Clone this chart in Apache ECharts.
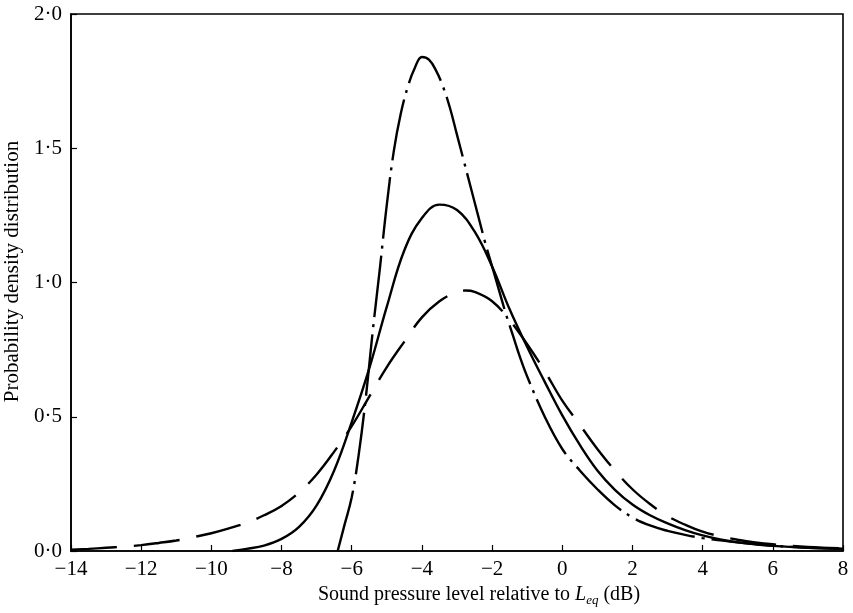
<!DOCTYPE html>
<html>
<head>
<meta charset="utf-8">
<script src="https://cdn.jsdelivr.net/npm/echarts@6/dist/echarts.min.js"></script>
<style>
html,body{margin:0;padding:0;background:#fff;}
#chart{width:853px;height:613px;}
</style>
</head>
<body>
<div id="chart"></div>
<script>
// tick values
var xTicks = [-14, -12, -10, -8, -6, -4, -2, 0, 2, 4, 6, 8];
var yTicks = [0, 0.5, 1.0, 1.5, 2.0];

// Solid curve
var solidX = [-9.4, -9.0, -8.5, -8.0, -7.5, -7.0, -6.5, -6.0, -5.5, -5.0, -4.5, -4.0, -3.5, -3.0, -2.5, -2.0, -1.5, -1.0, -0.5, 0, 0.5, 1.0, 1.5, 2.0, 2.5, 3.0, 3.5, 4.0, 4.5, 5.0, 5.5, 6.0, 7.0, 8.0];
var solidY = [0, 0.008, 0.02, 0.045, 0.09, 0.17, 0.3, 0.48, 0.68, 0.91, 1.12, 1.24, 1.29, 1.27, 1.19, 1.06, 0.9, 0.76, 0.63, 0.505, 0.395, 0.3, 0.228, 0.173, 0.133, 0.103, 0.078, 0.058, 0.043, 0.032, 0.025, 0.019, 0.012, 0.008];

// Dashed curve
var dashedX = [-14, -13.5, -13, -12.5, -12, -11.5, -11, -10.5, -10, -9.5, -9, -8.5, -8, -7.5, -7, -6.5, -6.0, -5.5, -5.0, -4.5, -4.0, -3.5, -3.0, -2.75, -2.5, -2.0, -1.5, -1.0, -0.5, 0, 0.5, 1.0, 1.5, 2.0, 2.5, 3.0, 3.5, 4.0, 4.5, 5.0, 5.5, 6.0, 7.0, 8.0];
var dashedY = [0.005, 0.008, 0.012, 0.016, 0.022, 0.03, 0.039, 0.052, 0.066, 0.084, 0.105, 0.133, 0.168, 0.218, 0.285, 0.37, 0.465, 0.575, 0.685, 0.78, 0.87, 0.93, 0.965, 0.97, 0.965, 0.93, 0.86, 0.77, 0.67, 0.56, 0.47, 0.38, 0.3, 0.23, 0.175, 0.13, 0.098, 0.072, 0.055, 0.042, 0.032, 0.025, 0.015, 0.01];

// Dash-dot curve
var dashDotX = [-6.4, -6.2, -6.0, -5.8, -5.6, -5.4, -5.2, -5.0, -4.8, -4.6, -4.4, -4.2, -4.0, -3.8, -3.6, -3.4, -3.2, -3.0, -2.8, -2.6, -2.4, -2.2, -2.0, -1.8, -1.6, -1.4, -1.2, -1.0, -0.5, 0, 0.5, 1.0, 1.5, 2.0, 2.5, 3.0, 3.5, 4.0, 4.5, 5.0, 6.0, 7.0, 8.0];
var dashDotY = [0, 0.1, 0.2, 0.36, 0.57, 0.82, 1.05, 1.29, 1.49, 1.63, 1.73, 1.8, 1.84, 1.83, 1.79, 1.73, 1.65, 1.55, 1.45, 1.35, 1.25, 1.15, 1.06, 0.97, 0.88, 0.8, 0.72, 0.65, 0.5, 0.38, 0.3, 0.23, 0.17, 0.125, 0.095, 0.075, 0.06, 0.048, 0.04, 0.032, 0.02, 0.012, 0.008];

function pairs(xs, ys) { return xs.map(function (x, i) { return [x, ys[i]]; }); }

var FONT = '"Liberation Serif", "DejaVu Serif", serif';
var chart = echarts.init(document.getElementById('chart'));
chart.setOption({
  animation: false,
  backgroundColor: '#fff',
  grid: { left: 71, right: 10, top: 14, bottom: 62, outerBoundsMode: 'none', containLabel: false,
    show: true, borderColor: '#000', borderWidth: 1.6, backgroundColor: 'transparent' },
  xAxis: {
    type: 'value', min: xTicks[0], max: xTicks[xTicks.length - 1], interval: 2,
    axisLine: { onZero: false, lineStyle: { color: '#000', width: 1.6 } },
    axisTick: { inside: true, length: 6, lineStyle: { color: '#000', width: 1.2 } },
    splitLine: { show: false },
    axisLabel: { color: '#000', fontFamily: FONT, fontSize: 21, margin: 8,
      formatter: function (v) { return v < 0 ? '\u2212' + Math.abs(v) : String(v); } },
    name: '{a|Sound pressure level relative to }{i|L}{s|eq}{a| (dB)}',
    nameLocation: 'middle', nameGap: 28,
    nameTextStyle: { color: '#000', fontFamily: FONT, fontSize: 20, padding: [0, 0, 0, 44],
      rich: {
        a: { fontFamily: FONT, fontSize: 20, color: '#000' },
        i: { fontFamily: FONT, fontSize: 20, color: '#000', fontStyle: 'italic' },
        s: { fontFamily: FONT, fontSize: 13, color: '#000', fontStyle: 'italic', padding: [12, 0, 0, 0] }
      } }
  },
  yAxis: {
    type: 'value', min: yTicks[0], max: yTicks[yTicks.length - 1], interval: 0.5,
    axisLine: { show: true, onZero: false, lineStyle: { color: '#000', width: 1.6 } },
    axisTick: { show: true, inside: true, length: 6, lineStyle: { color: '#000', width: 1.2 } },
    splitLine: { show: false },
    axisLabel: { color: '#000', fontFamily: FONT, fontSize: 21, margin: 9,
      formatter: function (v) { return v.toFixed(1).replace('.', '\u00B7'); } },
    name: 'Probability density distribution',
    nameLocation: 'middle', nameGap: 39,
    nameTextStyle: { color: '#000', fontFamily: FONT, fontSize: 21, padding: [0, 0, 0, 22] }
  },
  series: [
    { name: 'solid', type: 'line', smooth: 0.4, showSymbol: false, symbol: 'none',
      data: pairs(solidX, solidY),
      lineStyle: { color: '#000', width: 2.4, type: 'solid' } },
    { name: 'dashed', type: 'line', smooth: 0.4, showSymbol: false, symbol: 'none',
      data: pairs(dashedX, dashedY),
      lineStyle: { color: '#000', width: 2.4, type: [46, 17] } },
    { name: 'dashdot', type: 'line', smooth: 0.4, showSymbol: false, symbol: 'none',
      data: pairs(dashDotX, dashDotY),
      lineStyle: { color: '#000', width: 2.4, type: [62, 7, 3, 7] } }
  ]
});
</script>
</body>
</html>
